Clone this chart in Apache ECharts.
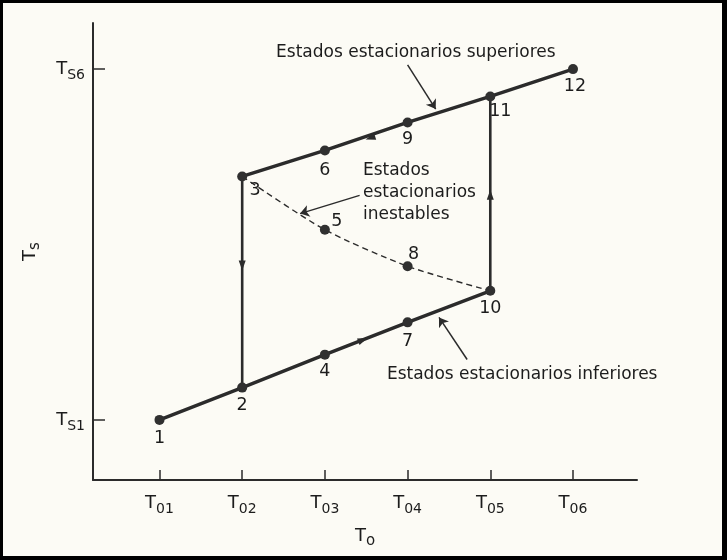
<!DOCTYPE html>
<html>
<head>
<meta charset="utf-8">
<script src="https://cdn.jsdelivr.net/npm/echarts@6/dist/echarts.min.js"></script>
<style>
html,body{margin:0;padding:0;background:#fcfbf5;}
#wrap{position:relative;width:727px;height:560px;}
#chart{width:727px;height:560px;}
#frame{position:absolute;left:0;top:0;width:727px;height:560px;box-sizing:border-box;border-style:solid;border-color:#000;border-width:3px 5px 4px 3px;pointer-events:none;}
</style>
</head>
<body>
<div id="wrap"><div id="chart"></div><div id="frame"></div></div>
<script>
// ---- data ----
const xTickValues = [1, 2, 3, 4, 5, 6];
const xTickSubs = ['01', '02', '03', '04', '05', '06'];
const yTickValues = [1, 6];
const yTickSubs = ['S1', 'S6'];

// lower stable branch: points 1, 2, 4, 7, 10
const lowerNames = ['1', '2', '4', '7', '10'];
const lowerX = [1, 2, 3, 4, 5];
const lowerY = [1, 1.46, 1.93, 2.39, 2.84];
// upper stable branch: points 3, 6, 9, 11, 12
const upperNames = ['3', '6', '9', '11', '12'];
const upperX = [2, 3, 4, 5, 6];
const upperY = [4.47, 4.84, 5.24, 5.61, 6];
// unstable branch: 3, 5, 8, 10
const unstableNames = ['3', '5', '8', '10'];
const unstableX = [2, 3, 4, 5];
const unstableY = [4.47, 3.71, 3.19, 2.84];
// jumps
const jumpDown = [[2, 4.47], [2, 1.46]];   // 3 -> 2
const jumpUp = [[5, 2.84], [5, 5.61]];     // 10 -> 11
// direction arrows on the paths
const arrowX = [2, 5, 3.55, 3.46];
const arrowY = [3.2, 4.21, 5.02, 2.14];
// annotations
const annoTexts = ['Estados estacionarios superiores', 'Estados\nestacionarios\ninestables', 'Estados estacionarios inferiores'];
const annoX = [2.41, 3.46, 3.75];
const annoY = [6.24, 4.24, 1.64];
const pointerFrom = [[4.0, 6.06], [3.42, 4.2], [4.72, 1.86]];
const pointerTo = [[4.34, 5.43], [2.70, 3.94], [4.38, 2.46]];

// ---- styles ----
const INK = '#2b2b2b';
const TEXT = '#1c1c1c';
const FONT = 'DejaVu Sans';
const labelOffsets = {
  '1': [0, 19], '2': [0, 18], '4': [0, 17], '7': [0, 19], '10': [0, 18],
  '3': [13, 14], '6': [0, 20], '9': [0, 17], '11': [10, 15], '12': [2, 17],
  '5': [12, -8], '8': [6, -12]
};
const arrowRot = [180, 0, 108, -69];

function pts(xs, ys) {
  return xs.map((x, i) => [x, ys[i]]);
}
function labeledPts(xs, ys, names) {
  return xs.map((x, i) => ({
    value: [x, ys[i]],
    label: { show: true, formatter: names[i], offset: labelOffsets[names[i]] }
  }));
}

const chart = echarts.init(document.getElementById('chart'), null, { renderer: 'canvas' });

const pointLabel = { position: 'inside', color: TEXT, fontFamily: FONT, fontSize: 17.5, opacity: 1 };
const tickRich = {
  t: { fontSize: 18, color: TEXT, fontFamily: FONT },
  s: { fontSize: 14, color: TEXT, fontFamily: FONT, padding: [12, 0, 0, 0] }
};
const nameRich = {
  t: { fontSize: 18, color: TEXT, fontFamily: FONT },
  s: { fontSize: 15, color: TEXT, fontFamily: FONT, padding: [10, 0, 0, 0] }
};

const option = {
  backgroundColor: '#fcfbf5',
  animation: false,
  grid: { left: 93, right: 90, top: 23, bottom: 80 },
  xAxis: {
    type: 'value', min: 0.196, max: 6.774,
    splitLine: { show: false },
    axisLine: { show: true, lineStyle: { color: INK, width: 2 } },
    axisTick: { show: true, inside: true, length: 10, customValues: xTickValues, lineStyle: { color: INK, width: 1.5 } },
    axisLabel: {
      customValues: xTickValues, margin: 10,
      formatter: v => '{t|T}{s|' + xTickSubs[xTickValues.indexOf(Math.round(v))] + '}',
      rich: tickRich
    },
    name: '{t|T}{s|o}', nameLocation: 'middle', nameGap: 44,
    nameTextStyle: { rich: nameRich }
  },
  yAxis: {
    type: 'value', min: 0.143, max: 6.657,
    splitLine: { show: false },
    axisLine: { show: true, lineStyle: { color: INK, width: 2 } },
    axisTick: { show: true, inside: true, length: 12, customValues: yTickValues, lineStyle: { color: INK, width: 1.5 } },
    axisLabel: {
      customValues: yTickValues, margin: 8,
      formatter: v => '{t|T}{s|' + yTickSubs[yTickValues.indexOf(Math.round(v))] + '}',
      rich: tickRich
    },
    name: '{t|T}{s|s}', nameLocation: 'middle', nameGap: 50, nameRotate: 90,
    nameTextStyle: { rich: nameRich }
  },
  series: [
    {
      type: 'line', data: pts(unstableX, unstableY), smooth: 0.25,
      symbol: 'none', lineStyle: { color: INK, width: 1.4, type: [6, 4] }, z: 2
    },
    {
      type: 'line', data: jumpDown, symbol: 'none',
      lineStyle: { color: INK, width: 2.6 }, z: 3
    },
    {
      type: 'line', data: jumpUp, symbol: 'none',
      lineStyle: { color: INK, width: 2.6 }, z: 3
    },
    {
      type: 'line', data: pts(lowerX, lowerY), symbol: 'none',
      lineStyle: { color: INK, width: 3.4 }, z: 4
    },
    {
      type: 'line', data: pts(upperX, upperY), symbol: 'none',
      lineStyle: { color: INK, width: 3.4 }, z: 4
    },
    {
      type: 'scatter', data: labeledPts(lowerX, lowerY, lowerNames).concat(labeledPts(upperX, upperY, upperNames)),
      symbol: 'circle', symbolSize: 10, itemStyle: { color: '#303030', opacity: 1 }, label: pointLabel, z: 5
    },
    {
      type: 'scatter', data: labeledPts(unstableX.slice(1, 3), unstableY.slice(1, 3), unstableNames.slice(1, 3)),
      symbol: 'circle', symbolSize: 10, itemStyle: { color: '#303030', opacity: 1 }, label: pointLabel, z: 5
    },
    {
      type: 'scatter', data: arrowX.map((x, i) => ({ value: [x, arrowY[i]], symbolRotate: arrowRot[i] })),
      symbol: 'triangle', symbolSize: [7, 10], itemStyle: { color: INK, opacity: 1 }, z: 6, silent: true
    },
    {
      type: 'lines', coordinateSystem: 'cartesian2d', polyline: false,
      data: pointerFrom.map((f, i) => ({ coords: [f, pointerTo[i]] })),
      symbol: ['none', 'arrow'], symbolSize: 9,
      lineStyle: { color: INK, width: 1.5, opacity: 1 }, z: 6
    },
    {
      type: 'scatter', data: annoX.map((x, i) => ({ value: [x, annoY[i]], label: { formatter: annoTexts[i] } })),
      symbolSize: 0, itemStyle: { opacity: 1 },
      label: {
        show: true, position: 'right', distance: 0, align: 'left', opacity: 1,
        color: TEXT, fontFamily: FONT, fontSize: 17, lineHeight: 22
      },
      z: 7
    }
  ]
};
chart.setOption(option);
</script>
</body>
</html>
